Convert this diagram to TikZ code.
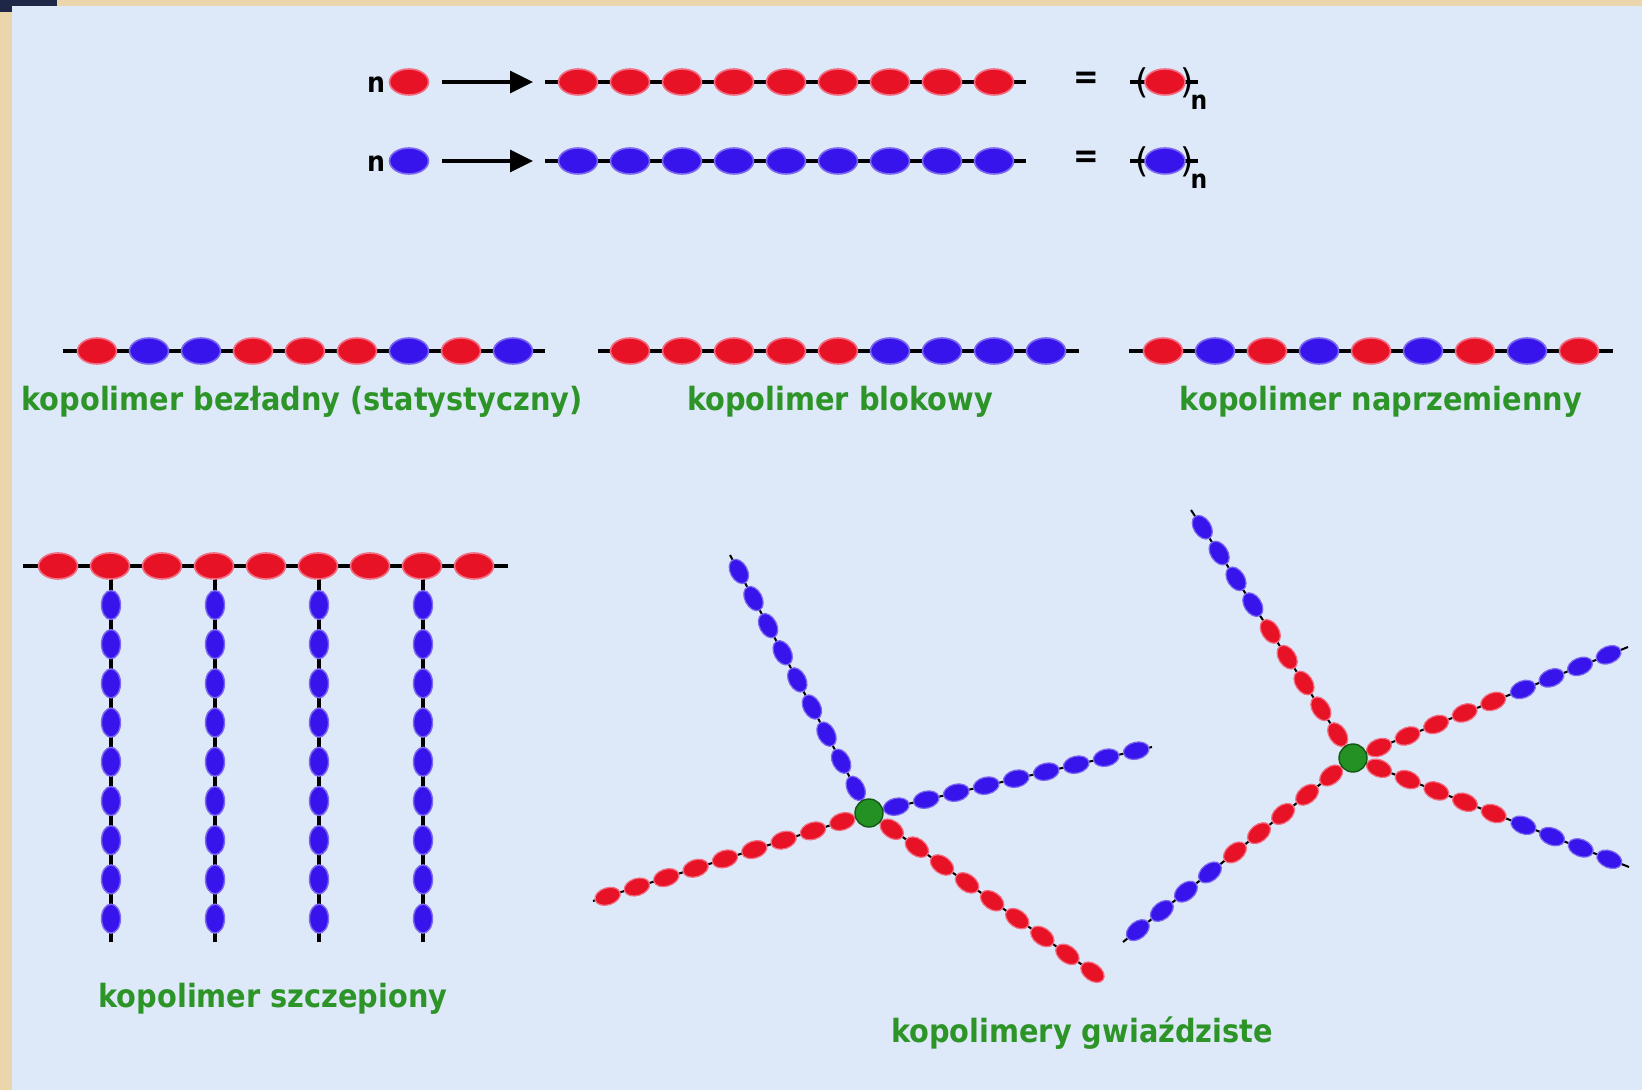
\documentclass[tikz,border=0pt]{standalone}
\usepackage{fontspec}
\usetikzlibrary{shapes.geometric,arrows.meta,decorations.markings,calc}
\newfontfamily\lblfont{DejaVu Sans}[FakeStretch=0.9]
\newfontfamily\thinfont{DejaVu Sans}

\definecolor{bgblue}{RGB}{221,232,248}
\definecolor{framebeige}{RGB}{234,214,170}
\definecolor{darkcorner}{RGB}{30,40,70}
\definecolor{beadred}{RGB}{232,18,38}
\definecolor{beadblue}{RGB}{55,20,235}
\definecolor{halored}{RGB}{242,110,130}
\definecolor{haloblue}{RGB}{125,105,240}
\definecolor{coregreen}{RGB}{35,145,35}
\definecolor{lblgreen}{RGB}{45,148,40}

\tikzset{
  bond/.style={line width=1.7pt, black},
  thinbond/.style={line width=1pt, black},
  rb/.style={ellipse, fill=beadred, draw=halored, line width=0.8pt, inner sep=0pt,
             minimum width=19.5pt, minimum height=13pt},
  bb/.style={ellipse, fill=beadblue, draw=haloblue, line width=0.8pt, inner sep=0pt,
             minimum width=19.5pt, minimum height=13pt},
  vb/.style={ellipse, fill=beadblue, draw=haloblue, line width=0.7pt, inner sep=0pt,
             minimum width=9.5pt, minimum height=14.5pt},
  srb/.style={ellipse, fill=beadred, draw=halored, line width=0.6pt, inner sep=0pt,
              minimum width=13pt, minimum height=8.5pt, transform shape},
  sbb/.style={ellipse, fill=beadblue, draw=haloblue, line width=0.6pt, inner sep=0pt,
              minimum width=13pt, minimum height=8.5pt, transform shape},
  core/.style={circle, fill=coregreen, draw=coregreen!60!black, line width=0.7pt,
               minimum size=14pt, inner sep=0pt},
  arm/.style={thinbond, postaction={decorate}, decoration={markings,
      mark=between positions 14pt and 138pt step 15.4pt with {\node[#1]{};}}},
  armmix/.style={thinbond, postaction={decorate}, decoration={markings,
      mark=between positions 14pt and 76pt step 15.4pt with {\node[srb]{};},
      mark=between positions 91.6pt and 138pt step 15.4pt with {\node[sbb]{};}}},
  lbl/.style={text=lblgreen, inner sep=0pt,
              font=\lblfont\bfseries\fontsize{16pt}{18pt}\selectfont},
  sym/.style={inner sep=0pt, font=\lblfont\bfseries\fontsize{14pt}{16pt}\selectfont},
  eqs/.style={inner sep=0pt, font=\lblfont\bfseries\fontsize{17pt}{19pt}\selectfont},
  subn/.style={inner sep=0pt, font=\lblfont\bfseries\fontsize{13pt}{15pt}\selectfont},
  paren/.style={inner sep=0pt, font=\thinfont\fontsize{17pt}{19pt}\selectfont},
}

\begin{document}
\begin{tikzpicture}[x=0.5pt,y=-0.5pt]
% page background and frame
\fill[framebeige] (0,0) rectangle (1642,1090);
\fill[bgblue] (12,6) rectangle (1642,1090);
\fill[darkcorner] (0,0) rectangle (57,6);
\fill[darkcorner] (0,0) rectangle (12,12);
\useasboundingbox (0,0) rectangle (1642,1090);

% homopolymerisation rows
\foreach \r/\yy/\st in {a/82/rb, b/161/bb} {
  \node[sym] (n\r) at (376,\yy+3) {n};
  \node[\st] (m\r) at (409,\yy) {};
  \coordinate (cs\r) at (545,\yy);
  \coordinate (ce\r) at (1026,\yy);
  \draw[bond, -{Triangle[length=11.5pt,width=11pt]}, shorten <=6.5pt, shorten >=6pt]
    (m\r) -- (cs\r);
  \draw[bond] (cs\r) -- (ce\r);
  \foreach \k in {0,...,8}
    \node[\st] (c\r\k) at (578+52*\k,\yy) {};
  \node[eqs] (eq\r) at (1086,\yy-2) {=};
  \coordinate (us\r) at (1130,\yy);
  \coordinate (ue\r) at (1198,\yy);
  \draw[bond] (us\r) -- (ue\r);
  \node[\st, minimum width=20pt] (u\r) at (1165,\yy) {};
  \node[paren] (pl\r) at (1142,\yy+1) {(};
  \node[paren] (pr\r) at (1187,\yy+1) {)};
  \node[subn] (sn\r) at (1199,\yy+20) {n};
}

% random copolymer
\coordinate (rs) at (63,351);
\coordinate (re) at (545,351);
\draw[bond] (rs) -- (re);
\foreach \s [count=\k from 0] in {rb,bb,bb,rb,rb,rb,bb,rb,bb}
  \node[\s] (r\k) at (97+52*\k,351) {};
\node[lbl] (lr) at (302,402) {kopolimer bezładny (statystyczny)};

% block copolymer
\coordinate (bs) at (598,351);
\coordinate (be) at (1079,351);
\draw[bond] (bs) -- (be);
\foreach \s [count=\k from 0] in {rb,rb,rb,rb,rb,bb,bb,bb,bb}
  \node[\s] (b\k) at (630+52*\k,351) {};
\node[lbl] (lb) at (840,402) {kopolimer blokowy};

% alternating copolymer
\coordinate (as) at (1129,351);
\coordinate (ae) at (1613,351);
\draw[bond] (as) -- (ae);
\foreach \s [count=\k from 0] in {rb,bb,rb,bb,rb,bb,rb,bb,rb}
  \node[\s] (a\k) at (1163+52*\k,351) {};
\node[lbl] (la) at (1381,402) {kopolimer naprzemienny};

% graft copolymer
\coordinate (gs) at (23,566);
\coordinate (ge) at (508,566);
\draw[bond] (gs) -- (ge);
\foreach \x [count=\i] in {111,215,319,423} {
  \coordinate (gt\i) at (\x,566);
  \coordinate (gb\i) at (\x,942);
  \draw[bond] (gt\i) -- (gb\i);
  \foreach \k in {0,...,8}
    \node[vb] (v\i\k) at (\x,605+39.2*\k) {};
}
\foreach \k in {0,...,8}
  \node[rb] (g\k) at (58+52*\k,566) {};
\node[lbl] (lg) at (273,999) {kopolimer szczepiony};

% star copolymer with homopolymer arms
\coordinate (c1) at (869,813);
\coordinate (s1a) at (730,555);
\coordinate (s1b) at (1152,747);
\coordinate (s1c) at (593,901);
\coordinate (s1d) at (1102,979);
\draw[arm=sbb] (c1) -- (s1a);
\draw[arm=sbb] (c1) -- (s1b);
\draw[arm=srb] (c1) -- (s1c);
\draw[arm=srb] (c1) -- (s1d);
\node[core] (k1) at (c1) {};

% star copolymer with block arms
\coordinate (c2) at (1353,758);
\coordinate (s2a) at (1191,510);
\coordinate (s2b) at (1628,647);
\coordinate (s2c) at (1629,867);
\coordinate (s2d) at (1123,942);
\draw[armmix] (c2) -- (s2a);
\draw[armmix] (c2) -- (s2b);
\draw[armmix] (c2) -- (s2c);
\draw[armmix] (c2) -- (s2d);
\node[core] (k2) at (c2) {};

\node[lbl] (ls) at (1082,1033) {kopolimery gwiaździste};
\end{tikzpicture}
\end{document}
